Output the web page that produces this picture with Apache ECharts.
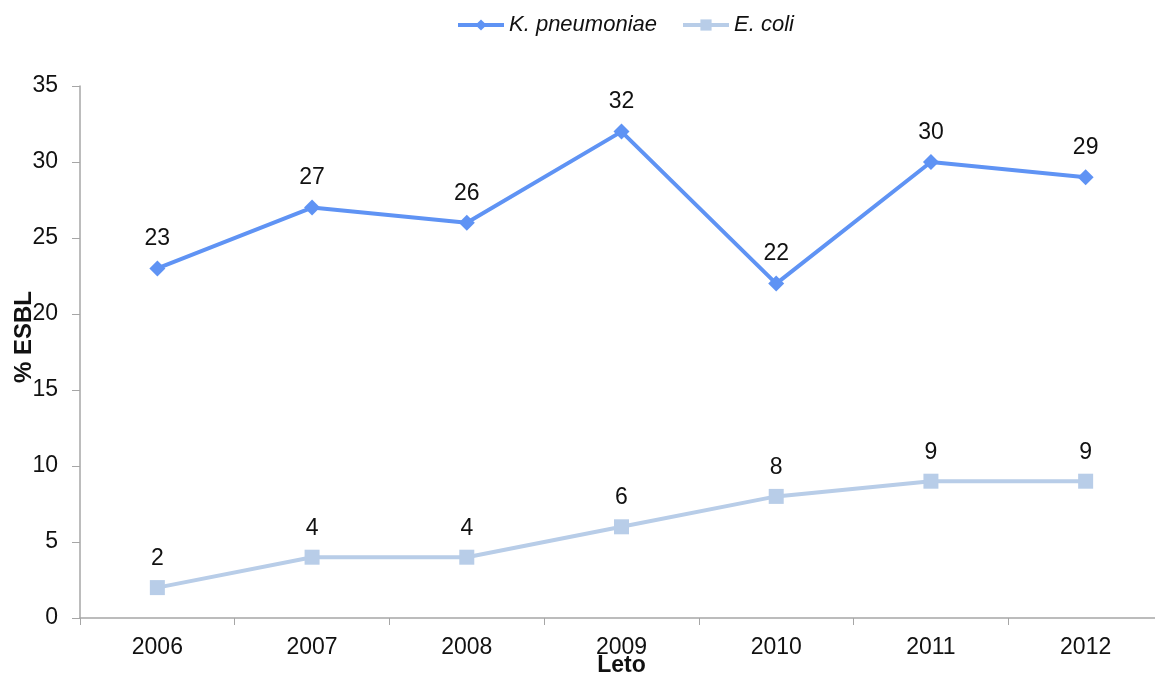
<!DOCTYPE html>
<html>
<head>
<meta charset="utf-8">
<script src="https://cdn.jsdelivr.net/npm/echarts@6/dist/echarts.min.js"></script>
<style>
  html, body { margin: 0; padding: 0; background: #fff; }
  #chart { width: 1155px; height: 673px; }
</style>
</head>
<body>
<div id="chart"></div>
<script>
const years = ['2006', '2007', '2008', '2009', '2010', '2011', '2012'];
const kPneumoniae = [23, 27, 26, 32, 22, 30, 29];
const eColi = [2, 4, 4, 6, 8, 9, 9];

const font = 'Liberation Sans, Arial, sans-serif';
const axisGrey = '#a6a6a6';

const chart = echarts.init(document.getElementById('chart'));

const labelStyle = {
  show: true,
  position: 'top',
  distance: 10,
  fontSize: 23,
  fontFamily: font,
  color: '#111',
};

chart.setOption({
  animation: false,
  legend: {
    top: 9,
    left: 451,
    itemWidth: 46,
    itemHeight: 14,
    itemGap: 24,
    lineStyle: { width: 4 },
    textStyle: { fontSize: 22, fontStyle: 'italic', fontFamily: font, color: '#111' },
    data: ['K. pneumoniae', 'E. coli'],
  },
  grid: { left: 80, right: -8, top: 86, bottom: 55, containLabel: false, outerBoundsMode: 'none' },
  xAxis: {
    type: 'category',
    data: years,
    name: 'Leto',
    nameLocation: 'middle',
    nameGap: 36,
    nameMoveOverlap: false,
    nameTextStyle: { fontSize: 23, fontWeight: 'bold', fontFamily: font, color: '#111' },
    axisLine: { lineStyle: { color: axisGrey, width: 1.5 } },
    axisTick: { show: true, length: 7, lineStyle: { color: axisGrey } },
    axisLabel: { fontSize: 23, fontFamily: font, color: '#111', margin: 18 },
  },
  yAxis: {
    type: 'value',
    min: 0,
    max: 35,
    interval: 5,
    name: '% ESBL',
    nameLocation: 'middle',
    nameGap: 44,
    nameMoveOverlap: false,
    nameRotate: 90,
    nameTextStyle: { fontSize: 24, fontWeight: 'bold', fontFamily: font, color: '#111', padding: [0, 0, 0, 30] },
    axisLine: { show: true, lineStyle: { color: axisGrey, width: 1.5 } },
    axisTick: { show: true, length: 8, lineStyle: { color: axisGrey } },
    axisLabel: { fontSize: 23, fontFamily: font, color: '#111', margin: 22 },
    splitLine: { show: false },
  },
  series: [
    {
      name: 'K. pneumoniae',
      type: 'line',
      data: kPneumoniae,
      symbol: 'diamond',
      symbolSize: 16,
      lineStyle: { color: '#5f93f4', width: 4 },
      itemStyle: { color: '#5f93f4' },
      label: labelStyle,
    },
    {
      name: 'E. coli',
      type: 'line',
      data: eColi,
      symbol: 'rect',
      symbolSize: 15,
      lineStyle: { color: '#b8cde8', width: 4 },
      itemStyle: { color: '#b8cde8' },
      label: labelStyle,
    },
  ],
});
</script>
</body>
</html>
